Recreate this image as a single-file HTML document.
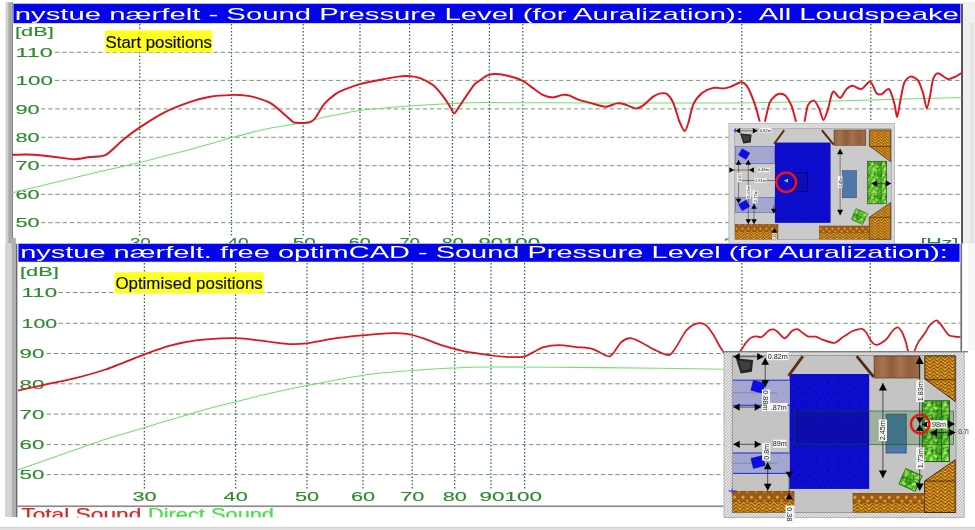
<!DOCTYPE html>
<html><head><meta charset="utf-8"><title>Sound Pressure Level</title>
<style>html,body{margin:0;padding:0;overflow:hidden;background:#fff;font-family:"Liberation Sans",sans-serif;}svg{display:block}</style></head>
<body>
<svg width="975" height="530" viewBox="0 0 975 530" font-family="Liberation Sans, sans-serif">

<defs>
<pattern id="herr" width="7.6" height="3.4" patternUnits="userSpaceOnUse">
<rect width="7.6" height="3.4" fill="#ffc23c"/>
<path d="M-0.2,-2.80 L3.80,-6.80 L7.80,-2.80 M-0.2,0.60 L3.80,-3.40 L7.80,0.60 M-0.2,4.00 L3.80,0.00 L7.80,4.00 M-0.2,7.40 L3.80,3.40 L7.80,7.40" fill="none" stroke="#8e5006" stroke-width="1.55"/>
</pattern>
<pattern id="herr1" width="7.6" height="3.4" patternUnits="userSpaceOnUse" patternTransform="scale(1.2)">
<rect width="7.6" height="3.4" fill="#ffc23c"/>
<path d="M-0.2,-2.80 L3.80,-6.80 L7.80,-2.80 M-0.2,0.60 L3.80,-3.40 L7.80,0.60 M-0.2,4.00 L3.80,0.00 L7.80,4.00 M-0.2,7.40 L3.80,3.40 L7.80,7.40" fill="none" stroke="#8e5006" stroke-width="1.55"/>
</pattern>
<pattern id="dots" width="8.6" height="10" patternUnits="userSpaceOnUse">
<rect width="8.6" height="10" fill="#9c5a12"/>
<circle cx="2.2" cy="3" r="1.5" fill="#f2b048"/><circle cx="6.5" cy="7" r="1.5" fill="#e8a43c"/>
</pattern>
<pattern id="carpet" width="11" height="11" patternUnits="userSpaceOnUse">
<rect width="11" height="11" fill="#0909d2"/>
<circle cx="5.5" cy="5.5" r="2.8" fill="none" stroke="#0505b4" stroke-width="1.2"/>
<circle cx="0" cy="0" r="1.4" fill="#0606bc"/><circle cx="11" cy="0" r="1.4" fill="#0606bc"/><circle cx="0" cy="11" r="1.4" fill="#0606bc"/><circle cx="11" cy="11" r="1.4" fill="#0606bc"/>
</pattern>
<pattern id="sofa" width="16" height="16" patternUnits="userSpaceOnUse"><rect width="16" height="16" fill="#4ab41e"/><circle cx="7.2" cy="9.0" r="1.4" fill="#227a10"/><circle cx="7.2" cy="13.7" r="0.9" fill="#1f6e0e"/><circle cx="8.2" cy="10.1" r="1.3" fill="#a4e860"/><circle cx="7.1" cy="2.3" r="1.1" fill="#2f9418"/><circle cx="10.2" cy="9.5" r="1.0" fill="#227a10"/><circle cx="10.5" cy="9.8" r="0.8" fill="#a4e860"/><circle cx="13.3" cy="1.0" r="0.7" fill="#8cd848"/><circle cx="9.6" cy="12.4" r="1.0" fill="#c0f080"/><circle cx="13.5" cy="8.3" r="1.2" fill="#227a10"/><circle cx="0.1" cy="1.4" r="1.2" fill="#227a10"/><circle cx="16.0" cy="15.9" r="1.4" fill="#2f9418"/><circle cx="4.1" cy="12.1" r="1.1" fill="#a4e860"/><circle cx="1.1" cy="12.3" r="1.0" fill="#1f6e0e"/><circle cx="4.7" cy="1.1" r="0.7" fill="#2f9418"/><circle cx="0.0" cy="3.4" r="1.4" fill="#227a10"/><circle cx="6.0" cy="11.3" r="1.0" fill="#c0f080"/><circle cx="10.1" cy="12.5" r="0.9" fill="#a4e860"/><circle cx="5.0" cy="0.2" r="1.0" fill="#a4e860"/><circle cx="2.2" cy="11.3" r="0.7" fill="#227a10"/><circle cx="12.8" cy="2.8" r="1.1" fill="#227a10"/><circle cx="8.1" cy="15.8" r="1.3" fill="#227a10"/><circle cx="10.3" cy="1.9" r="1.0" fill="#8cd848"/><circle cx="0.0" cy="13.8" r="1.5" fill="#c0f080"/><circle cx="4.9" cy="14.2" r="0.9" fill="#227a10"/><circle cx="15.9" cy="9.6" r="1.2" fill="#a4e860"/><circle cx="15.8" cy="3.4" r="0.9" fill="#1f6e0e"/><circle cx="9.8" cy="13.3" r="1.0" fill="#a4e860"/><circle cx="1.4" cy="9.3" r="0.9" fill="#c0f080"/><circle cx="5.9" cy="10.0" r="0.8" fill="#c0f080"/><circle cx="7.7" cy="9.2" r="1.4" fill="#8cd848"/><circle cx="10.0" cy="5.0" r="0.9" fill="#c0f080"/><circle cx="4.0" cy="3.0" r="1.3" fill="#c0f080"/><circle cx="3.1" cy="15.2" r="1.4" fill="#c0f080"/><circle cx="1.3" cy="0.8" r="0.8" fill="#c0f080"/><circle cx="15.4" cy="3.8" r="1.3" fill="#2a8a14"/><circle cx="6.7" cy="14.5" r="1.1" fill="#c0f080"/><circle cx="2.8" cy="11.5" r="0.8" fill="#8cd848"/><circle cx="7.7" cy="10.5" r="1.2" fill="#a4e860"/><circle cx="4.5" cy="14.7" r="0.9" fill="#a4e860"/><circle cx="1.1" cy="6.6" r="0.9" fill="#a4e860"/><circle cx="2.8" cy="5.9" r="1.2" fill="#8cd848"/><circle cx="1.5" cy="2.2" r="1.1" fill="#2a8a14"/><circle cx="10.5" cy="11.1" r="1.2" fill="#8cd848"/><circle cx="9.4" cy="14.8" r="1.1" fill="#2a8a14"/><circle cx="11.2" cy="15.4" r="0.7" fill="#2f9418"/><circle cx="1.2" cy="1.1" r="0.9" fill="#8cd848"/><circle cx="16.0" cy="1.2" r="1.1" fill="#2f9418"/><circle cx="0.7" cy="15.0" r="1.3" fill="#8cd848"/><circle cx="12.7" cy="14.6" r="1.0" fill="#2f9418"/><circle cx="7.6" cy="1.2" r="1.4" fill="#1f6e0e"/><circle cx="0.5" cy="8.0" r="0.7" fill="#2f9418"/><circle cx="6.1" cy="9.3" r="1.2" fill="#a4e860"/><circle cx="1.5" cy="1.8" r="0.9" fill="#227a10"/><circle cx="11.7" cy="6.2" r="1.3" fill="#c0f080"/><circle cx="7.3" cy="7.4" r="1.1" fill="#c0f080"/><circle cx="12.0" cy="0.5" r="1.2" fill="#227a10"/><circle cx="0.4" cy="15.3" r="0.8" fill="#1f6e0e"/><circle cx="9.8" cy="14.7" r="0.9" fill="#a4e860"/><circle cx="5.9" cy="2.3" r="1.2" fill="#c0f080"/><circle cx="2.7" cy="14.5" r="1.2" fill="#227a10"/></pattern>
<linearGradient id="woodg" x1="0" x2="1" y1="0" y2="0">
<stop offset="0" stop-color="#94623f"/><stop offset="0.2" stop-color="#a8744e"/><stop offset="0.4" stop-color="#8e5c3c"/><stop offset="0.6" stop-color="#a87450"/><stop offset="0.8" stop-color="#90603e"/><stop offset="1" stop-color="#a06a48"/>
</linearGradient>
<pattern id="wood" width="44" height="22" patternUnits="userSpaceOnUse" x="141.7" y="1.7">
<rect width="44" height="22" fill="url(#woodg)"/>
</pattern>
<pattern id="hatch" width="3" height="3" patternUnits="userSpaceOnUse">
<rect width="3" height="3" fill="#e4e4e4"/>
<path d="M-0.5,3.5 L3.5,-0.5" stroke="#9c9c9c" stroke-width="0.6"/>
</pattern>
<pattern id="bluehatch" width="2.5" height="2.5" patternUnits="userSpaceOnUse">
<rect width="2.5" height="2.5" fill="#b2b4d6"/>
<path d="M-0.5,-0.5 L3,3" stroke="#6f74b4" stroke-width="0.55"/>
</pattern>
<pattern id="greenhatch" width="2.5" height="2.5" patternUnits="userSpaceOnUse">
<path d="M-0.5,-0.5 L3,3" stroke="#0a5a0a" stroke-width="0.45"/>
</pattern>
<filter id="blur"><feGaussianBlur stdDeviation="0.45"/></filter>
<filter id="blur2"><feGaussianBlur stdDeviation="0.3"/></filter>
<clipPath id="clip1"><rect x="0" y="0" width="975" height="243.8"/></clipPath>
<clipPath id="clipc1"><rect x="12" y="23" width="950" height="221"/></clipPath>
<clipPath id="clipc2"><rect x="18" y="262" width="943" height="244"/></clipPath>
<clipPath id="cliplegend"><rect x="0" y="500" width="975" height="17.2"/></clipPath>
</defs>

<rect x="0.0" y="0.0" width="975.0" height="530.0" fill="#ffffff" />
<rect x="0.0" y="527.3" width="975.0" height="3.0" fill="#e4e4e4" /><rect x="0.0" y="527.3" width="975.0" height="0.9" fill="#c8c8c8" />
<rect x="963.0" y="2.0" width="12.0" height="241.8" fill="#f0f0f0" />
<rect x="969.8" y="23.0" width="4.4" height="220.0" fill="#e4e4e4" />
<rect x="961.0" y="3.7" width="2.0" height="240.0" fill="#565656" />
<rect x="963.5" y="243.8" width="11.5" height="106.6" fill="#f7f7f7" />
<g clip-path="url(#clip1)">
<rect x="5.6" y="2.2" width="2.6" height="243.0" fill="#d2d2d2" /><rect x="8.2" y="2.2" width="3.0" height="243.0" fill="#a8a8a8" /><rect x="11.6" y="2.2" width="1.1" height="243.0" fill="#4c4c4c" />
<rect x="12.7" y="3.3" width="948.3" height="20.2" fill="#d4d6ff" />
<rect x="13.5" y="3.8" width="946.8" height="19.3" fill="#0404ea" />
<g filter="url(#blur)"><text x="14.8" y="19.6" font-size="17" fill="#ffffff" text-anchor="start" textLength="944.1" lengthAdjust="spacingAndGlyphs" style="white-space:pre">nystue nærfelt - Sound Pressure Level (for Auralization):  All Loudspeake</text></g>
<g filter="url(#blur)">
<line x1="55.0" y1="52.3" x2="962.0" y2="52.3" stroke="#688c68" stroke-width="0.9" stroke-dasharray="4.4 2.8"/><line x1="55.0" y1="80.4" x2="962.0" y2="80.4" stroke="#688c68" stroke-width="0.9" stroke-dasharray="4.4 2.8"/><line x1="41.0" y1="108.9" x2="962.0" y2="108.9" stroke="#688c68" stroke-width="0.9" stroke-dasharray="4.4 2.8"/><line x1="41.0" y1="137.3" x2="962.0" y2="137.3" stroke="#688c68" stroke-width="0.9" stroke-dasharray="4.4 2.8"/><line x1="41.0" y1="165.7" x2="962.0" y2="165.7" stroke="#688c68" stroke-width="0.9" stroke-dasharray="4.4 2.8"/><line x1="41.0" y1="194.3" x2="962.0" y2="194.3" stroke="#688c68" stroke-width="0.9" stroke-dasharray="4.4 2.8"/><line x1="41.0" y1="222.7" x2="962.0" y2="222.7" stroke="#688c68" stroke-width="0.9" stroke-dasharray="4.4 2.8"/><line x1="139.7" y1="24.0" x2="139.7" y2="237.0" stroke="#2a6a2a" stroke-width="1.25" stroke-dasharray="1.5 2.0"/><line x1="231.5" y1="24.0" x2="231.5" y2="237.0" stroke="#2a6a2a" stroke-width="1.25" stroke-dasharray="1.5 2.0"/><line x1="303.2" y1="24.0" x2="303.2" y2="237.0" stroke="#2a6a2a" stroke-width="1.25" stroke-dasharray="1.5 2.0"/><line x1="360.0" y1="24.0" x2="360.0" y2="237.0" stroke="#2a6a2a" stroke-width="1.25" stroke-dasharray="1.5 2.0"/><line x1="409.6" y1="24.0" x2="409.6" y2="237.0" stroke="#2a6a2a" stroke-width="1.25" stroke-dasharray="1.5 2.0"/><line x1="452.4" y1="24.0" x2="452.4" y2="237.0" stroke="#2a6a2a" stroke-width="1.25" stroke-dasharray="1.5 2.0"/><line x1="489.4" y1="24.0" x2="489.4" y2="237.0" stroke="#2a6a2a" stroke-width="1.25" stroke-dasharray="1.5 2.0"/><line x1="522.8" y1="24.0" x2="522.8" y2="237.0" stroke="#2a6a2a" stroke-width="1.25" stroke-dasharray="1.5 2.0"/><line x1="741.8" y1="24.0" x2="741.8" y2="237.0" stroke="#2a6a2a" stroke-width="1.25" stroke-dasharray="1.5 2.0"/><line x1="870.8" y1="24.0" x2="870.8" y2="237.0" stroke="#2a6a2a" stroke-width="1.25" stroke-dasharray="1.5 2.0"/>
</g>
<g filter="url(#blur)" stroke="#2f8a2f" stroke-width="0.15">
<text x="15.0" y="36.2" font-size="13.5" fill="#2f8a2f" text-anchor="start" textLength="38.8" lengthAdjust="spacingAndGlyphs" >[dB]</text>
<text x="15.5" y="57.0" font-size="13.2" fill="#2f8a2f" text-anchor="start" textLength="37.4" lengthAdjust="spacingAndGlyphs" >110</text>
<text x="15.5" y="85.1" font-size="13.2" fill="#2f8a2f" text-anchor="start" textLength="37.4" lengthAdjust="spacingAndGlyphs" >100</text>
<text x="15.5" y="113.6" font-size="13.2" fill="#2f8a2f" text-anchor="start" textLength="24.2" lengthAdjust="spacingAndGlyphs" >90</text>
<text x="15.5" y="142.0" font-size="13.2" fill="#2f8a2f" text-anchor="start" textLength="24.2" lengthAdjust="spacingAndGlyphs" >80</text>
<text x="15.5" y="170.4" font-size="13.2" fill="#2f8a2f" text-anchor="start" textLength="24.2" lengthAdjust="spacingAndGlyphs" >70</text>
<text x="15.5" y="199.0" font-size="13.2" fill="#2f8a2f" text-anchor="start" textLength="24.2" lengthAdjust="spacingAndGlyphs" >60</text>
<text x="15.5" y="227.4" font-size="13.2" fill="#2f8a2f" text-anchor="start" textLength="24.2" lengthAdjust="spacingAndGlyphs" >50</text>
<text x="130.3" y="247.4" font-size="13.2" fill="#2f8a2f" text-anchor="start" textLength="20.3" lengthAdjust="spacingAndGlyphs" >30</text>
<text x="227.4" y="247.4" font-size="13.2" fill="#2f8a2f" text-anchor="start" textLength="21.3" lengthAdjust="spacingAndGlyphs" >40</text>
<text x="292.7" y="247.4" font-size="13.2" fill="#2f8a2f" text-anchor="start" textLength="23.3" lengthAdjust="spacingAndGlyphs" >50</text>
<text x="348.8" y="247.4" font-size="13.2" fill="#2f8a2f" text-anchor="start" textLength="22.0" lengthAdjust="spacingAndGlyphs" >60</text>
<text x="399.5" y="247.4" font-size="13.2" fill="#2f8a2f" text-anchor="start" textLength="20.3" lengthAdjust="spacingAndGlyphs" >70</text>
<text x="441.8" y="247.4" font-size="13.2" fill="#2f8a2f" text-anchor="start" textLength="22.0" lengthAdjust="spacingAndGlyphs" >80</text>
<text x="478.4" y="247.4" font-size="13.2" fill="#2f8a2f" text-anchor="start" textLength="61.6" lengthAdjust="spacingAndGlyphs" >90100</text>
<text x="723.4" y="247.4" font-size="13.2" fill="#2f8a2f" text-anchor="start" textLength="35.0" lengthAdjust="spacingAndGlyphs" >200</text>
<text x="920.4" y="246.6" font-size="13.5" fill="#2f8a2f" text-anchor="start" textLength="38.0" lengthAdjust="spacingAndGlyphs" >[Hz]</text>
</g>
<g clip-path="url(#clipc1)" filter="url(#blur)">
<path d="M11.5,192.9 C15.1,192.0 29.9,188.5 38.2,186.5 C46.5,184.5 64.9,180.1 73.9,177.9 C82.9,175.7 97.0,172.2 105.7,170.2 C114.4,168.2 129.6,165.0 139.3,162.6 C149.0,160.2 171.5,154.1 178.3,152.4 C185.1,150.7 185.6,150.7 190.0,149.5 C194.4,148.3 205.8,145.0 211.4,143.4 C217.0,141.8 224.3,139.6 231.8,137.6 C239.3,135.6 257.7,130.7 267.3,128.7 C276.9,126.7 296.1,124.0 303.7,122.5 C311.3,121.0 319.7,118.2 324.5,117.1 C329.3,116.0 335.3,115.1 340.0,114.2 C344.7,113.3 350.7,111.5 360.0,110.4 C369.3,109.3 397.2,106.8 409.7,105.9 C422.2,105.0 443.5,103.8 453.4,103.4 C463.3,103.0 464.5,102.7 484.0,102.6 C503.5,102.5 567.1,102.9 600.0,102.9 C632.9,102.9 703.5,103.1 731.0,102.9 C758.5,102.7 787.6,102.1 806.3,101.7 C825.0,101.3 850.9,100.5 871.6,99.9 C892.3,99.3 949.9,97.7 961.9,97.4" fill="none" stroke="#6fe26f" stroke-width="1.05"/>
<path d="M11.5,154.7 C14.6,154.7 28.6,154.4 34.4,154.7 C40.2,155.0 49.7,156.4 55.0,157.0 C60.3,157.6 69.2,159.3 73.9,159.3 C78.6,159.3 85.7,157.6 90.0,157.0 C94.3,156.4 101.4,157.2 105.8,154.9 C110.2,152.6 118.7,143.5 123.2,139.8 C127.7,136.1 134.4,131.0 139.8,127.4 C145.2,123.8 157.4,116.0 164.0,112.6 C170.6,109.2 183.5,104.2 189.6,102.1 C195.7,100.0 204.2,97.8 210.0,96.8 C215.8,95.8 228.9,95.1 233.4,94.9 C237.9,94.7 241.1,95.1 244.0,95.4 C246.9,95.7 251.5,96.4 255.0,97.4 C258.5,98.4 266.6,101.0 270.1,102.9 C273.6,104.8 278.4,109.2 281.4,111.7 C284.4,114.2 290.6,120.2 292.7,121.7 C294.8,123.2 295.7,122.6 297.0,122.8 C298.3,123.0 301.0,123.1 302.8,123.0 C304.6,122.9 308.6,122.9 310.3,122.2 C312.0,121.5 313.5,120.4 315.3,118.0 C317.1,115.6 321.4,107.4 324.1,104.2 C326.8,101.0 332.6,96.1 335.4,94.1 C338.2,92.1 342.1,90.4 345.4,89.1 C348.7,87.8 355.7,85.3 360.0,84.1 C364.3,82.9 372.9,81.3 378.0,80.3 C383.1,79.3 393.9,77.2 398.1,76.6 C402.3,76.0 406.7,75.9 409.7,76.1 C412.7,76.3 417.6,77.1 420.7,78.3 C423.8,79.5 430.3,82.9 433.3,85.3 C436.3,87.7 441.0,93.6 443.3,96.6 C445.6,99.6 449.4,105.6 450.8,107.9 C452.2,110.2 453.1,113.5 454.1,113.5 C455.1,113.5 456.8,110.2 458.4,107.9 C460.0,105.6 463.7,99.8 465.9,96.6 C468.1,93.4 472.8,86.3 474.7,84.1 C476.6,81.9 478.3,81.5 480.0,80.3 C481.7,79.1 485.3,76.1 487.5,75.3 C489.7,74.5 493.6,73.9 496.3,74.0 C499.0,74.1 504.1,74.9 507.6,75.8 C511.1,76.7 519.4,79.2 522.7,80.8 C526.0,82.4 530.0,86.0 532.7,87.9 C535.4,89.8 540.0,93.6 542.7,94.9 C545.4,96.2 550.1,97.4 552.8,97.4 C555.5,97.4 560.6,95.2 562.8,94.9 C565.0,94.6 566.9,94.7 569.1,95.4 C571.3,96.1 576.3,98.9 579.1,99.9 C581.9,100.9 586.9,102.0 590.4,102.9 C593.9,103.8 602.0,106.6 605.5,106.7 C609.0,106.8 614.3,103.7 616.8,103.4 C619.3,103.1 621.8,103.5 624.3,104.2 C626.8,104.9 633.1,108.2 635.6,108.4 C638.1,108.6 640.9,107.0 643.2,105.4 C645.5,103.8 650.9,98.2 653.2,96.6 C655.5,95.0 658.9,93.7 660.7,93.4 C662.5,93.1 665.3,92.8 667.0,94.1 C668.7,95.4 671.6,99.2 673.3,102.9 C675.0,106.6 678.0,118.0 679.5,121.7 C681.0,125.4 683.4,130.8 684.6,131.0 C685.8,131.2 687.1,126.6 688.3,123.0 C689.5,119.4 691.6,108.2 693.4,104.2 C695.2,100.2 699.4,95.1 702.1,92.9 C704.8,90.7 710.5,88.5 713.4,87.9 C716.3,87.3 721.7,88.6 724.0,88.4 C726.3,88.2 728.7,87.4 731.0,86.6 C733.3,85.8 738.8,82.3 741.0,82.3 C743.2,82.3 745.5,83.9 747.3,86.6 C749.1,89.3 752.7,98.3 754.4,102.9 C756.1,107.5 758.6,117.6 759.7,121.4 C760.8,125.2 761.8,131.3 762.5,131.3 C763.2,131.3 764.1,125.2 765.0,121.4 C765.9,117.6 768.2,106.3 769.6,102.9 C771.0,99.5 774.1,96.8 775.5,95.6 C776.9,94.4 778.9,93.7 780.2,93.7 C781.5,93.7 784.0,94.0 785.5,95.6 C787.0,97.2 790.0,102.0 791.4,105.4 C792.8,108.8 794.7,116.9 796.0,121.4 C797.3,125.9 799.9,139.0 801.0,139.0 C802.1,139.0 803.7,125.9 804.6,121.4 C805.5,116.9 806.7,108.2 807.9,105.4 C809.1,102.6 812.3,100.1 813.8,100.4 C815.3,100.7 817.6,105.3 818.9,107.9 C820.2,110.5 822.2,119.7 823.4,120.0 C824.6,120.3 826.5,113.7 827.6,110.4 C828.7,107.1 830.6,97.9 831.4,95.4 C832.2,92.9 832.7,91.3 833.9,91.6 C835.1,91.9 838.5,98.2 840.2,97.9 C841.9,97.6 844.8,90.7 846.5,89.1 C848.2,87.5 850.7,85.8 852.7,85.8 C854.7,85.8 859.2,89.7 861.5,89.1 C863.8,88.5 868.3,81.0 870.3,81.6 C872.3,82.2 875.1,91.7 876.6,93.4 C878.1,95.1 879.9,94.7 881.6,94.1 C883.3,93.5 887.4,87.9 889.1,89.1 C890.8,90.3 893.1,99.2 894.2,102.9 C895.3,106.6 896.4,117.0 897.2,116.7 C898.0,116.4 899.5,104.9 900.4,100.4 C901.3,95.9 902.9,86.0 904.2,82.8 C905.5,79.6 908.7,76.9 910.5,76.6 C912.3,76.3 916.3,78.1 918.0,80.3 C919.7,82.5 921.8,89.2 923.0,92.9 C924.2,96.6 925.8,108.4 926.8,108.4 C927.8,108.4 929.8,96.8 930.6,92.9 C931.4,89.0 932.1,81.7 933.1,79.1 C934.1,76.5 936.1,73.3 938.1,73.3 C940.1,73.3 945.8,78.7 948.1,79.1 C950.4,79.5 953.8,77.4 955.6,76.6 C957.4,75.8 961.1,73.3 961.9,72.8" fill="none" stroke="#de1620" stroke-width="1.95" stroke-linejoin="round"/>
</g>
<rect x="105.2" y="30.4" width="107.2" height="21.8" fill="#ffff22" />
<g filter="url(#blur)" stroke="#111" stroke-width="0.15"><text x="105.6" y="47.7" font-size="15.6" fill="#111" text-anchor="start" textLength="106.4" lengthAdjust="spacingAndGlyphs" >Start positions</text></g>
<g filter="url(#blur2)">
<rect x="728.5" y="121.7" width="166.4" height="2.2" fill="#ffffff" />
<rect x="728.9" y="123.6" width="165.6" height="121.0" fill="#dadada" stroke="#b4b4b4" stroke-width="0.8"/>
<rect x="734.8" y="128.8" width="156.4" height="110.8" fill="#cacaca" stroke="#8a8a8a" stroke-width="0.5"/>
<g transform="translate(734.8,128.8) scale(0.699,0.6986)">
<rect x="57.4" y="19.7" width="79.6" height="114.9" fill="url(#carpet)" /><rect x="141.9" y="1.7" width="45.6" height="22.0" fill="url(#wood)" stroke="#5a3a22" stroke-width="0.7"/><line x1="70.7" y1="1.8" x2="56.3" y2="21.6" stroke="#5e3014" stroke-width="2.8" /><line x1="124.5" y1="1.8" x2="141.4" y2="22.6" stroke="#522a12" stroke-width="2.8" /><polygon points="192.6,1.6 223,1.6 223,47.2 192.6,24.6" fill="url(#herr1)" stroke="#3a2204" stroke-width="0.9"/><line x1="192.6" y1="25.4" x2="223.0" y2="25.4" stroke="#3a2204" stroke-width="0.8" /><polygon points="192.3,126.8 223,105.5 223,158.2 192.3,158.2" fill="url(#herr1)" stroke="#3a2204" stroke-width="0.9"/><line x1="192.3" y1="126.8" x2="223.0" y2="126.8" stroke="#3a2204" stroke-width="0.8" /><rect x="0.7" y="137.1" width="61.0" height="20.8" fill="url(#herr1)" stroke="#7a4a08" stroke-width="0.6"/><rect x="0.7" y="137.1" width="61.0" height="10.4" fill="url(#dots)" stroke="#7a4a08" stroke-width="0.5"/><rect x="120.9" y="139.2" width="71.0" height="18.7" fill="url(#herr1)" stroke="#7a4a08" stroke-width="0.6"/><rect x="120.9" y="139.2" width="71.0" height="9.4" fill="url(#dots)" stroke="#7a4a08" stroke-width="0.5"/><rect x="190.0" y="46.5" width="27.2" height="60.8" fill="url(#sofa)" stroke="#1a4a10" stroke-width="0.9"/><line x1="209.2" y1="46.7" x2="209.2" y2="107.7" stroke="#1d5b12" stroke-width="0.9" /><rect x="153.9" y="59.9" width="20.1" height="38.8" fill="#4f78a8" stroke="#2c4f7a" stroke-width="0.8"/><g transform="translate(178.3,125.6) rotate(24)"><rect x="-9.0" y="-8.5" width="18.0" height="17.0" fill="url(#sofa)" stroke="#1d6b12" stroke-width="0.8"/><line x1="-9.0" y1="0.0" x2="9.0" y2="0.0" stroke="#1d6b12" stroke-width="0.6" /></g>
<rect x="1.0" y="25.6" width="56.1" height="24.5" fill="url(#bluehatch)" stroke="#3030d0" stroke-width="0.6"/>
<rect x="1.0" y="98.2" width="56.1" height="21.2" fill="url(#bluehatch)" stroke="#3030d0" stroke-width="0.6"/>
<g transform="translate(13.304721030043018,36.072144288577135) rotate(30)"><rect x="-6.2" y="-5.3" width="12.5" height="10.6" fill="#1010e8" stroke="#0000a0" stroke-width="0.5"/></g>
<g transform="translate(13.304721030043018,109.79101059261379) rotate(-30)"><rect x="-6.2" y="-5.3" width="12.5" height="10.6" fill="#1010e8" stroke="#0000a0" stroke-width="0.5"/></g>
<g transform="translate(15.021459227467812,11.45147437732608) scale(0.95)"><polygon points="-7.9,-5.1 9.4,-3.4 8.2,8.5 -3,10.2" fill="#262626"/><polygon points="-5,-2.6 6.8,-1.4 6,6 -1.6,7.2" fill="#555" opacity="0.55"/></g>
<rect x="83.4" y="63.1" width="21.0" height="26.6" fill="#0a0ab4" stroke="#000070" stroke-width="0.7"/>
<line x1="1.0" y1="2.8" x2="32.6" y2="2.8" stroke="#000" stroke-width="0.6" /><polygon points="1.0,2.8 7.8,-1.2 7.8,6.8" fill="#000"/><polygon points="32.6,2.8 25.8,-1.2 25.8,6.8" fill="#000"/>
<g transform="translate(43.9,2.1) rotate(0)"><rect x="-8.6" y="-3.3" width="17.2" height="6.6" fill="#f4f4f4" /><text x="0" y="2.02" font-size="5.6" fill="#222" text-anchor="middle">0.82m</text></g>
<line x1="5.4" y1="44.7" x2="5.4" y2="106.2" stroke="#000" stroke-width="0.6" />
<polygon points="5.4,106.9 1.4,100.1 9.4,100.1" fill="#000"/>
<line x1="19.3" y1="44.7" x2="19.3" y2="136.3" stroke="#000" stroke-width="0.6" />
<polygon points="19.3,136.3 15.3,129.5 23.3,129.5" fill="#000"/>
<polygon points="5.4,44.7 1.4,51.5 9.4,51.5" fill="#000"/>
<polygon points="19.3,44.7 15.3,51.5 23.3,51.5" fill="#000"/>
<line x1="27.5" y1="107.6" x2="27.5" y2="136.3" stroke="#000" stroke-width="0.6" />
<polygon points="27.5,136.3 23.5,129.5 31.5,129.5" fill="#000"/>
<polygon points="27.5,107.6 23.5,114.4 31.5,114.4" fill="#000"/>
<line x1="-6.0" y1="59.0" x2="25.5" y2="59.0" stroke="#000" stroke-width="0.6" />
<polygon points="-1.0,59.0 -7.8,55.0 -7.8,63.0" fill="#000"/>
<polygon points="20.5,59.0 27.3,55.0 27.3,63.0" fill="#000"/>
<g transform="translate(41.1,59.0) rotate(0)"><rect x="-8.6" y="-3.3" width="17.2" height="6.6" fill="#f4f4f4" /><text x="0" y="2.02" font-size="5.6" fill="#222" text-anchor="middle">0.48m</text></g>
<line x1="4.6" y1="74.0" x2="58.9" y2="74.0" stroke="#000" stroke-width="0.6" />
<g transform="translate(36.8,74.0) rotate(0)"><rect x="-8.6" y="-3.3" width="17.2" height="6.6" fill="#f4f4f4" /><text x="0" y="2.02" font-size="5.6" fill="#222" text-anchor="middle">1.91m</text></g>
<g transform="translate(6.7,69.7) rotate(-90)"><rect x="-6.6" y="-3.1" width="13.1" height="6.2" fill="#f4f4f4" /><text x="0" y="1.87" font-size="5.2" fill="#222" text-anchor="middle">4.91</text></g>
<g transform="translate(19.6,90.5) rotate(-90)"><rect x="-9.4" y="-3.6" width="18.9" height="7.2" fill="#f4f4f4" /><text x="0" y="2.23" font-size="6.2" fill="#222" text-anchor="middle">0.47m</text></g>
<g transform="translate(28.9,96.9) rotate(-90)"><rect x="-9.4" y="-3.6" width="18.9" height="7.2" fill="#f4f4f4" /><text x="0" y="2.23" font-size="6.2" fill="#222" text-anchor="middle">2.77m</text></g>
<line x1="55.8" y1="109.1" x2="55.8" y2="121.1" stroke="#000" stroke-width="0.6" />
<polygon points="55.8,121.1 51.8,114.3 59.8,114.3" fill="#000"/>
<g transform="translate(56.8,154.9) rotate(-90)"><rect x="-6.4" y="-3.0" width="12.7" height="6.0" fill="#f4f4f4" /><text x="0" y="1.80" font-size="5" fill="#222" text-anchor="middle">0.38</text></g>
<polygon points="56.8,142.0 52.8,148.8 60.8,148.8" fill="#000"/>
<line x1="150.7" y1="28.7" x2="150.7" y2="123.8" stroke="#000" stroke-width="0.6" /><polygon points="150.7,28.7 146.3,36.5 155.1,36.5" fill="#000"/><polygon points="150.7,123.8 146.3,116.0 155.1,116.0" fill="#000"/>
<g transform="translate(150.7,76.0) rotate(-90)"><rect x="-8.6" y="-3.3" width="17.2" height="6.6" fill="#f4f4f4" /><text x="0" y="2.02" font-size="5.6" fill="#222" text-anchor="middle">2.45m</text></g>
<line x1="195.7" y1="78.2" x2="223.7" y2="78.2" stroke="#000" stroke-width="0.6" />
<polygon points="195.7,78.2 203.5,73.8 203.5,82.6" fill="#000"/>
<polygon points="223.7,78.2 215.9,73.8 215.9,82.6" fill="#000"/>
<circle cx="73.5" cy="76.4" r="5" fill="#8fd0c0" opacity="0.0"/>
<path d="M70.0,73.9 l6,-2.5 l0,6 z" fill="#7fd8b8"/>
<circle cx="73.5" cy="76.4" r="14" fill="none" stroke="#e81414" stroke-width="3.6"/>
</g>
<path d="M733.5,130.5 l3.6,0 M735.3,128.4 l0,4.2" stroke="#2222dd" stroke-width="0.8"/>
</g>
</g>
<rect x="4.0" y="243.8" width="964.0" height="273.4" fill="#ffffff" />
<rect x="5.0" y="243.0" width="6.5" height="274.0" fill="#d4d4d4" /><rect x="11.5" y="238.0" width="4.4" height="279.0" fill="#b0b0b0" /><rect x="15.9" y="243.8" width="1.5" height="273.4" fill="#6a6a6a" />
<rect x="960.4" y="243.8" width="1.7" height="107.0" fill="#6e6e6e" />
<rect x="17.6" y="243.3" width="942.6" height="18.9" fill="#d4d6ff" />
<rect x="18.5" y="243.8" width="941.0" height="17.9" fill="#0404ea" />
<g filter="url(#blur)"><text x="20.2" y="258.4" font-size="17" fill="#ffffff" text-anchor="start" textLength="927.7" lengthAdjust="spacingAndGlyphs" >nystue nærfelt. free optimCAD - Sound Pressure Level (for Auralization):</text></g>
<g filter="url(#blur)">
<line x1="58.5" y1="292.5" x2="961.0" y2="292.5" stroke="#688c68" stroke-width="0.9" stroke-dasharray="4.4 2.8"/><line x1="58.5" y1="323.3" x2="961.0" y2="323.3" stroke="#688c68" stroke-width="0.9" stroke-dasharray="4.4 2.8"/><line x1="46.5" y1="353.5" x2="961.0" y2="353.5" stroke="#688c68" stroke-width="0.9" stroke-dasharray="4.4 2.8"/><line x1="46.5" y1="383.8" x2="961.0" y2="383.8" stroke="#688c68" stroke-width="0.9" stroke-dasharray="4.4 2.8"/><line x1="46.5" y1="414.1" x2="961.0" y2="414.1" stroke="#688c68" stroke-width="0.9" stroke-dasharray="4.4 2.8"/><line x1="46.5" y1="444.6" x2="961.0" y2="444.6" stroke="#688c68" stroke-width="0.9" stroke-dasharray="4.4 2.8"/><line x1="46.5" y1="474.6" x2="961.0" y2="474.6" stroke="#688c68" stroke-width="0.9" stroke-dasharray="4.4 2.8"/><line x1="144.4" y1="263.0" x2="144.4" y2="490.5" stroke="#2a6a2a" stroke-width="1.25" stroke-dasharray="1.5 2.0"/><line x1="235.6" y1="263.0" x2="235.6" y2="490.5" stroke="#2a6a2a" stroke-width="1.25" stroke-dasharray="1.5 2.0"/><line x1="307.0" y1="263.0" x2="307.0" y2="490.5" stroke="#2a6a2a" stroke-width="1.25" stroke-dasharray="1.5 2.0"/><line x1="363.0" y1="263.0" x2="363.0" y2="490.5" stroke="#2a6a2a" stroke-width="1.25" stroke-dasharray="1.5 2.0"/><line x1="412.2" y1="263.0" x2="412.2" y2="490.5" stroke="#2a6a2a" stroke-width="1.25" stroke-dasharray="1.5 2.0"/><line x1="454.7" y1="263.0" x2="454.7" y2="490.5" stroke="#2a6a2a" stroke-width="1.25" stroke-dasharray="1.5 2.0"/><line x1="491.0" y1="263.0" x2="491.0" y2="490.5" stroke="#2a6a2a" stroke-width="1.25" stroke-dasharray="1.5 2.0"/><line x1="524.6" y1="263.0" x2="524.6" y2="490.5" stroke="#2a6a2a" stroke-width="1.25" stroke-dasharray="1.5 2.0"/><line x1="741.9" y1="263.0" x2="741.9" y2="490.5" stroke="#2a6a2a" stroke-width="1.25" stroke-dasharray="1.5 2.0"/><line x1="870.3" y1="263.0" x2="870.3" y2="490.5" stroke="#2a6a2a" stroke-width="1.25" stroke-dasharray="1.5 2.0"/>
</g>
<g filter="url(#blur)" stroke="#2f8a2f" stroke-width="0.15">
<text x="19.9" y="275.7" font-size="13.5" fill="#2f8a2f" text-anchor="start" textLength="39.0" lengthAdjust="spacingAndGlyphs" >[dB]</text>
<text x="21.6" y="297.2" font-size="13.2" fill="#2f8a2f" text-anchor="start" textLength="35.6" lengthAdjust="spacingAndGlyphs" >110</text>
<text x="21.6" y="328.0" font-size="13.2" fill="#2f8a2f" text-anchor="start" textLength="35.6" lengthAdjust="spacingAndGlyphs" >100</text>
<text x="19.6" y="358.2" font-size="13.2" fill="#2f8a2f" text-anchor="start" textLength="24.8" lengthAdjust="spacingAndGlyphs" >90</text>
<text x="19.6" y="388.5" font-size="13.2" fill="#2f8a2f" text-anchor="start" textLength="24.8" lengthAdjust="spacingAndGlyphs" >80</text>
<text x="19.6" y="418.8" font-size="13.2" fill="#2f8a2f" text-anchor="start" textLength="24.8" lengthAdjust="spacingAndGlyphs" >70</text>
<text x="19.6" y="449.3" font-size="13.2" fill="#2f8a2f" text-anchor="start" textLength="24.8" lengthAdjust="spacingAndGlyphs" >60</text>
<text x="19.6" y="479.3" font-size="13.2" fill="#2f8a2f" text-anchor="start" textLength="24.8" lengthAdjust="spacingAndGlyphs" >50</text>
<text x="132.4" y="500.7" font-size="13.2" fill="#2f8a2f" text-anchor="start" textLength="24.2" lengthAdjust="spacingAndGlyphs" >30</text>
<text x="223.6" y="500.7" font-size="13.2" fill="#2f8a2f" text-anchor="start" textLength="24.2" lengthAdjust="spacingAndGlyphs" >40</text>
<text x="295.0" y="500.7" font-size="13.2" fill="#2f8a2f" text-anchor="start" textLength="24.2" lengthAdjust="spacingAndGlyphs" >50</text>
<text x="351.0" y="500.7" font-size="13.2" fill="#2f8a2f" text-anchor="start" textLength="24.2" lengthAdjust="spacingAndGlyphs" >60</text>
<text x="400.2" y="500.7" font-size="13.2" fill="#2f8a2f" text-anchor="start" textLength="24.2" lengthAdjust="spacingAndGlyphs" >70</text>
<text x="442.7" y="500.7" font-size="13.2" fill="#2f8a2f" text-anchor="start" textLength="24.2" lengthAdjust="spacingAndGlyphs" >80</text>
<text x="479.6" y="500.7" font-size="13.2" fill="#2f8a2f" text-anchor="start" textLength="62.5" lengthAdjust="spacingAndGlyphs" >90100</text>
</g>
<g clip-path="url(#clipc2)" filter="url(#blur)">
<path d="M17.6,470.0 C22.0,468.5 39.2,462.4 50.3,458.5 C61.4,454.6 87.8,445.1 100.5,440.9 C113.2,436.7 132.3,431.3 145.7,427.3 C159.1,423.3 188.9,414.1 201.0,410.7 C213.1,407.3 226.8,404.0 236.2,401.7 C245.6,399.4 262.0,395.2 271.4,393.1 C280.8,391.0 297.1,387.5 306.5,385.6 C315.9,383.7 333.0,380.4 341.7,378.9 C350.4,377.4 362.5,375.1 371.9,374.0 C381.3,372.9 401.4,371.3 412.1,370.5 C422.8,369.7 441.9,368.5 452.3,368.0 C462.7,367.5 470.3,367.1 490.0,367.0 C509.7,366.9 568.5,367.3 600.0,367.6 C631.5,367.9 709.2,369.0 726.0,369.2" fill="none" stroke="#6fe26f" stroke-width="1.05"/>
<path d="M17.6,390.6 C21.3,389.8 37.5,386.3 45.2,384.6 C52.9,382.9 67.4,380.1 75.4,378.1 C83.4,376.1 96.1,372.7 105.5,369.5 C114.9,366.3 137.0,357.1 145.7,353.9 C154.4,350.7 164.2,347.2 170.9,345.4 C177.6,343.6 189.3,341.3 196.0,340.4 C202.7,339.5 215.1,338.7 221.1,338.4 C227.1,338.1 235.2,338.0 241.2,338.4 C247.2,338.8 260.3,340.7 266.3,341.4 C272.3,342.1 281.0,343.6 286.4,343.9 C291.8,344.2 300.5,344.1 306.5,343.4 C312.5,342.7 324.3,340.0 331.7,338.9 C339.1,337.8 354.4,336.1 361.8,335.4 C369.2,334.7 380.9,333.5 386.9,333.3 C392.9,333.1 402.3,333.2 407.0,333.8 C411.7,334.4 417.4,336.4 422.1,337.9 C426.8,339.4 436.8,343.7 442.2,345.4 C447.6,347.1 457.6,349.8 462.3,350.9 C467.0,352.0 473.5,352.8 477.4,353.4 C481.3,354.0 487.8,355.0 491.5,355.5 C495.2,356.0 501.3,356.6 505.5,356.8 C509.7,357.0 519.9,357.3 523.3,356.8 C526.7,356.3 528.2,354.7 530.9,353.4 C533.6,352.1 540.0,348.2 543.7,347.1 C547.4,346.0 554.6,345.0 559.0,345.0 C563.4,345.0 572.4,346.6 576.8,347.1 C581.2,347.6 588.0,347.7 592.1,348.9 C596.2,350.1 604.7,355.3 607.4,356.0 C610.1,356.7 610.6,356.1 612.5,354.2 C614.4,352.3 619.0,344.1 621.4,342.0 C623.8,339.9 627.8,338.2 630.3,338.2 C632.8,338.2 637.4,340.5 640.5,342.0 C643.6,343.5 649.5,347.3 653.2,349.1 C656.9,350.9 665.4,355.5 668.5,355.2 C671.6,354.9 673.7,350.4 676.1,347.1 C678.5,343.8 683.6,333.6 686.3,330.5 C689.0,327.4 694.0,324.4 696.5,323.6 C699.0,322.8 703.2,323.3 705.4,324.7 C707.6,326.1 711.2,331.5 713.1,334.3 C715.0,337.1 717.7,343.0 719.4,345.8 C721.1,348.6 724.1,353.4 726.0,355.0 C727.9,356.6 732.0,358.7 734.0,358.0 C736.0,357.3 739.6,351.9 741.2,349.9 C742.8,347.9 744.5,344.5 745.8,342.9 C747.1,341.3 749.8,338.5 751.1,337.6 C752.4,336.7 754.3,336.4 755.7,336.3 C757.1,336.2 759.9,337.8 761.7,337.0 C763.5,336.2 767.3,331.6 768.9,330.6 C770.5,329.6 772.5,329.2 773.6,329.3 C774.7,329.4 776.0,330.5 777.5,331.7 C779.0,332.9 782.9,338.4 784.8,338.3 C786.7,338.2 790.2,332.2 792.0,331.0 C793.8,329.8 796.7,329.1 798.0,329.3 C799.3,329.5 800.6,331.4 801.9,332.3 C803.2,333.2 806.0,335.7 807.9,336.3 C809.8,336.9 813.9,336.3 815.8,336.7 C817.7,337.1 819.9,338.8 822.4,339.6 C824.9,340.4 831.7,343.2 834.3,342.9 C836.9,342.6 840.7,338.6 842.2,337.6 C843.7,336.6 844.2,336.4 845.5,335.6 C846.8,334.8 850.1,332.3 851.6,331.5 C853.1,330.7 855.6,330.1 857.0,329.7 C858.4,329.3 861.0,328.5 862.2,328.8 C863.4,329.1 865.0,330.9 866.1,332.3 C867.2,333.7 869.1,338.1 870.1,339.6 C871.1,341.1 872.5,342.9 873.4,343.6 C874.3,344.3 875.7,344.9 876.7,344.9 C877.7,344.9 879.2,344.5 880.6,343.6 C882.0,342.7 885.6,340.0 887.2,338.3 C888.8,336.6 891.1,332.4 892.5,331.0 C893.9,329.6 896.6,327.4 897.8,327.5 C899.0,327.6 900.7,329.8 901.8,331.7 C902.9,333.6 904.9,339.2 905.7,341.6 C906.5,344.0 907.0,347.0 907.7,349.5 C908.4,352.0 910.3,360.0 911.3,360.0 C912.3,360.0 914.0,352.0 915.0,349.5 C916.0,347.0 917.9,342.9 918.6,341.6 C919.3,340.3 919.3,340.8 920.2,339.6 C921.1,338.4 924.3,334.2 925.5,332.3 C926.7,330.4 928.1,327.3 929.5,325.7 C930.9,324.1 934.6,320.7 936.1,320.5 C937.6,320.3 939.5,323.0 940.7,324.4 C941.9,325.8 944.2,329.5 945.3,331.0 C946.4,332.5 948.1,334.9 949.3,335.6 C950.5,336.3 953.1,336.4 954.6,336.6 C956.1,336.8 959.7,336.9 960.5,337.0" fill="none" stroke="#de1620" stroke-width="1.75" stroke-linejoin="round"/>
</g>
<rect x="17.4" y="505.4" width="706.0" height="1.7" fill="#8c8c92" />
<g clip-path="url(#cliplegend)" filter="url(#blur)">
<text x="21.3" y="519.9" font-size="16.5" fill="#e02424" text-anchor="start" textLength="120.0" lengthAdjust="spacingAndGlyphs" stroke="#e02020" stroke-width="0.2">Total Sound</text>
<text x="148.0" y="519.9" font-size="16.5" fill="#44e044" text-anchor="start" textLength="126.0" lengthAdjust="spacingAndGlyphs" stroke="#44e044" stroke-width="0.2">Direct Sound</text>
</g>
<rect x="114.6" y="272.2" width="149.1" height="21.3" fill="#ffff22" />
<g filter="url(#blur)" stroke="#111" stroke-width="0.15"><text x="115.4" y="288.9" font-size="16.2" fill="#111" text-anchor="start" textLength="147.4" lengthAdjust="spacingAndGlyphs" >Optimised positions</text></g>
<g filter="url(#blur2)">
<rect x="724.0" y="351.6" width="240.2" height="165.9" fill="url(#hatch)" stroke="#a8a8a8" stroke-width="0.8"/>
<rect x="722.0" y="351.0" width="246.0" height="1.4" fill="#808080" />
<rect x="732.2" y="355.5" width="223.8" height="157.2" fill="#c4c4c4" stroke="#7a7a7a" stroke-width="0.6"/>
<g transform="translate(732.2,354.3)">
<rect x="57.4" y="19.7" width="79.6" height="114.9" fill="url(#carpet)" /><rect x="141.9" y="1.7" width="45.6" height="22.0" fill="url(#wood)" stroke="#5a3a22" stroke-width="0.7"/><line x1="70.7" y1="1.8" x2="56.3" y2="21.6" stroke="#5e3014" stroke-width="2.8" /><line x1="124.5" y1="1.8" x2="141.4" y2="22.6" stroke="#522a12" stroke-width="2.8" /><polygon points="192.6,1.6 223,1.6 223,47.2 192.6,24.6" fill="url(#herr)" stroke="#3a2204" stroke-width="0.9"/><line x1="192.6" y1="25.4" x2="223.0" y2="25.4" stroke="#3a2204" stroke-width="0.8" /><polygon points="192.3,126.8 223,105.5 223,158.2 192.3,158.2" fill="url(#herr)" stroke="#3a2204" stroke-width="0.9"/><line x1="192.3" y1="126.8" x2="223.0" y2="126.8" stroke="#3a2204" stroke-width="0.8" /><rect x="0.7" y="137.1" width="61.0" height="20.8" fill="url(#herr)" stroke="#7a4a08" stroke-width="0.6"/><rect x="0.7" y="137.1" width="61.0" height="10.4" fill="url(#dots)" stroke="#7a4a08" stroke-width="0.5"/><rect x="120.9" y="139.2" width="71.0" height="18.7" fill="url(#herr)" stroke="#7a4a08" stroke-width="0.6"/><rect x="120.9" y="139.2" width="71.0" height="9.4" fill="url(#dots)" stroke="#7a4a08" stroke-width="0.5"/><rect x="190.0" y="46.5" width="27.2" height="60.8" fill="url(#sofa)" stroke="#1a4a10" stroke-width="0.9"/><line x1="209.2" y1="46.7" x2="209.2" y2="107.7" stroke="#1d5b12" stroke-width="0.9" /><rect x="153.9" y="59.9" width="20.1" height="38.8" fill="#4f78a8" stroke="#2c4f7a" stroke-width="0.8"/><g transform="translate(178.3,125.6) rotate(24)"><rect x="-9.0" y="-8.5" width="18.0" height="17.0" fill="url(#sofa)" stroke="#1d6b12" stroke-width="0.8"/><line x1="-9.0" y1="0.0" x2="9.0" y2="0.0" stroke="#1d6b12" stroke-width="0.6" /></g>
<rect x="0.7" y="25.9" width="56.7" height="25.1" fill="url(#bluehatch)" />
<line x1="0.7" y1="25.9" x2="57.4" y2="25.9" stroke="#2626e0" stroke-width="1.0" /><line x1="0.7" y1="51.0" x2="57.4" y2="51.0" stroke="#2626e0" stroke-width="1.0" />
<line x1="0.7" y1="38.5" x2="45.0" y2="38.5" stroke="#666a90" stroke-width="0.5" />
<rect x="0.7" y="98.7" width="56.7" height="20.4" fill="url(#bluehatch)" />
<line x1="0.7" y1="98.7" x2="57.4" y2="98.7" stroke="#2626e0" stroke-width="1.0" /><line x1="0.7" y1="119.1" x2="57.4" y2="119.1" stroke="#2626e0" stroke-width="1.0" />
<line x1="0.7" y1="108.9" x2="45.0" y2="108.9" stroke="#666a90" stroke-width="0.5" />
<g transform="translate(25.8,32.5) rotate(14)"><rect x="-6.0" y="-5.1" width="12.0" height="10.2" fill="#1010e8" stroke="#0000a0" stroke-width="0.5"/></g>
<g transform="translate(25.8,107.7) rotate(-14)"><rect x="-6.0" y="-5.1" width="12.0" height="10.2" fill="#1010e8" stroke="#0000a0" stroke-width="0.5"/></g>
<g transform="translate(11.5,9) scale(1.0)"><polygon points="-7.9,-5.1 9.4,-3.4 8.2,8.5 -3,10.2" fill="#262626"/><polygon points="-5,-2.6 6.8,-1.4 6,6 -1.6,7.2" fill="#555" opacity="0.55"/></g>
<rect x="62.4" y="56.7" width="158.9" height="33.7" fill="#1c7a1c" fill-opacity="0.10" stroke="#0a5a0a" stroke-width="0.7" stroke-opacity="0.8"/>
<rect x="137.0" y="56.7" width="84.3" height="33.7" fill="url(#greenhatch)" opacity="0.7"/>
<rect x="62.4" y="56.7" width="74.6" height="33.7" fill="#000040" opacity="0.10"/>
<line x1="1.0" y1="2.4" x2="31.5" y2="2.4" stroke="#000" stroke-width="0.6" /><polygon points="1.0,2.4 7.5,-1.2 7.5,6.0" fill="#000"/><polygon points="31.5,2.4 25.0,-1.2 25.0,6.0" fill="#000"/>
<g transform="translate(45.5,1.8) rotate(0)"><rect x="-10.8" y="-4.1" width="21.7" height="8.2" fill="#f4f4f4" /><text x="0" y="2.59" font-size="7.2" fill="#222" text-anchor="middle">0.82m</text></g>
<line x1="33.0" y1="3.5" x2="33.0" y2="33.0" stroke="#000" stroke-width="0.6" /><polygon points="33.0,3.5 29.2,10.5 36.8,10.5" fill="#000"/><polygon points="33.0,33.0 29.2,26.0 36.8,26.0" fill="#000"/>
<g transform="translate(33.8,46.0) rotate(90)"><rect x="-10.8" y="-4.1" width="21.7" height="8.2" fill="#f4f4f4" /><text x="0" y="2.59" font-size="7.2" fill="#222" text-anchor="middle">0.88m</text></g>
<line x1="1.0" y1="52.8" x2="29.0" y2="52.8" stroke="#000" stroke-width="0.6" /><polygon points="1.0,52.8 7.5,49.2 7.5,56.4" fill="#000"/><polygon points="29.0,52.8 22.5,49.2 22.5,56.4" fill="#000"/>
<g transform="translate(46.5,52.8) rotate(0)"><rect x="-8.8" y="-4.1" width="17.6" height="8.2" fill="#f4f4f4" /><text x="0" y="2.59" font-size="7.2" fill="#222" text-anchor="middle">.87m</text></g>
<line x1="1.0" y1="90.0" x2="29.0" y2="90.0" stroke="#000" stroke-width="0.6" /><polygon points="1.0,90.0 7.5,86.4 7.5,93.6" fill="#000"/><polygon points="29.0,90.0 22.5,86.4 22.5,93.6" fill="#000"/>
<g transform="translate(47.5,89.5) rotate(0)"><rect x="-6.8" y="-4.1" width="13.6" height="8.2" fill="#f4f4f4" /><text x="0" y="2.59" font-size="7.2" fill="#222" text-anchor="middle">89m</text></g>
<g transform="translate(34.0,97.5) rotate(-90)"><rect x="-8.8" y="-4.1" width="17.6" height="8.2" fill="#f4f4f4" /><text x="0" y="2.59" font-size="7.2" fill="#222" text-anchor="middle">0.8m</text></g>
<line x1="35.5" y1="108.0" x2="35.5" y2="136.5" stroke="#000" stroke-width="0.6" /><polygon points="35.5,108.0 31.7,115.0 39.3,115.0" fill="#000"/><polygon points="35.5,136.5 31.7,129.5 39.3,129.5" fill="#000"/>
<line x1="57.0" y1="122.0" x2="57.0" y2="146.0" stroke="#000" stroke-width="0.6" />
<polygon points="57.0,123.5 53.4,117.5 60.6,117.5" fill="#000"/>
<polygon points="57.0,139.0 53.4,145.0 60.6,145.0" fill="#000"/>
<g transform="translate(57.8,160.0) rotate(90)"><rect x="-8.8" y="-4.5" width="17.6" height="9.0" fill="#f4f4f4" /><text x="0" y="2.59" font-size="7.2" fill="#222" text-anchor="middle">0.38</text></g>
<line x1="150.7" y1="28.7" x2="150.7" y2="123.8" stroke="#000" stroke-width="0.6" /><polygon points="150.7,28.7 146.7,36.2 154.7,36.2" fill="#000"/><polygon points="150.7,123.8 146.7,116.3 154.7,116.3" fill="#000"/>
<g transform="translate(150.7,76.0) rotate(-90)"><rect x="-10.8" y="-4.1" width="21.7" height="8.2" fill="#f4f4f4" /><text x="0" y="2.59" font-size="7.2" fill="#222" text-anchor="middle">2.45m</text></g>
<line x1="187.5" y1="2.5" x2="187.5" y2="134.0" stroke="#000" stroke-width="0.6" />
<polygon points="187.5,2.2 183.5,9.7 191.5,9.7" fill="#000"/>
<g transform="translate(188.0,37.0) rotate(-90)"><rect x="-10.8" y="-4.1" width="21.7" height="8.2" fill="#f4f4f4" /><text x="0" y="2.59" font-size="7.2" fill="#222" text-anchor="middle">1.83m</text></g>
<g transform="translate(188.0,104.0) rotate(-90)"><rect x="-10.8" y="-4.1" width="21.7" height="8.2" fill="#f4f4f4" /><text x="0" y="2.59" font-size="7.2" fill="#222" text-anchor="middle">1.73m</text></g>
<polygon points="187.5,136.7 183.5,129.2 191.5,129.2" fill="#000"/>
<line x1="190.0" y1="70.2" x2="222.0" y2="70.2" stroke="#000" stroke-width="0.6" />
<g transform="translate(203.8,70.0) rotate(0)"><rect x="-10.8" y="-4.1" width="21.7" height="8.2" fill="#f4f4f4" /><text x="0" y="2.59" font-size="7.2" fill="#222" text-anchor="middle">0.98m</text></g>
<polygon points="222.7,69.8 215.7,66.0 215.7,73.6" fill="#000"/>
<polygon points="223.4,78.2 216.4,74.4 216.4,82.0" fill="#000"/>
<polygon points="197.9,78.4 204.9,74.6 204.9,82.2" fill="#000"/>
<line x1="198.0" y1="78.3" x2="223.0" y2="78.3" stroke="#000" stroke-width="0.6" />
<text x="226" y="80.2" font-size="6.6" fill="#333">0.7i</text>
<polygon points="187.5,69.0 183.7,63.0 191.3,63.0" fill="#000"/>
<polygon points="187.5,70.5 183.7,76.5 191.3,76.5" fill="#000"/>
<polygon points="190.0,70.2 195.0,67.0 195.0,73.4" fill="#000"/>
<circle cx="188.0" cy="69.8" r="9.3" fill="none" stroke="#e41414" stroke-width="2.5"/>
</g>
<path d="M728.5,491 l8,0" stroke="#2222dd" stroke-width="1.0"/><path d="M732,488 l0,6" stroke="#2222dd" stroke-width="0.6"/>
</g>
</svg>
</body></html>
